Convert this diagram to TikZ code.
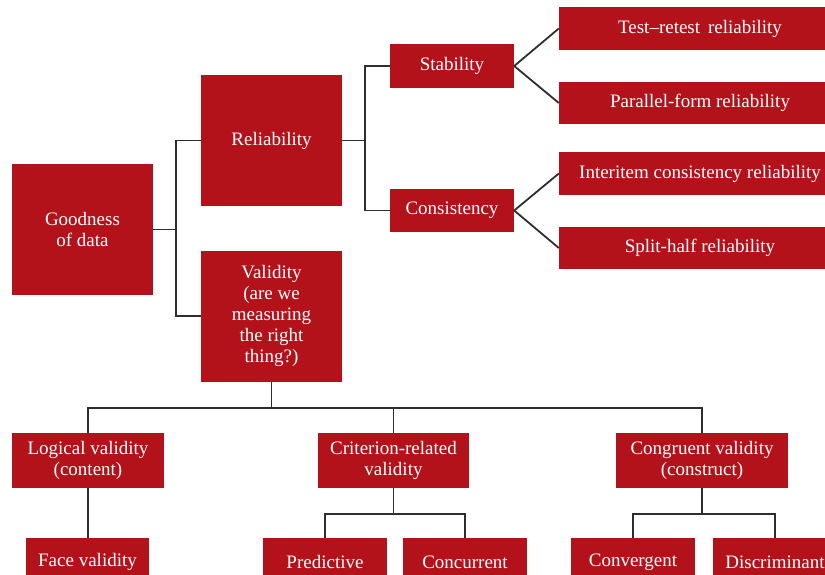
\documentclass[tikz,border=0pt]{standalone}
\usepackage{fontspec}
\setmainfont{Liberation Serif}
\definecolor{boxred}{HTML}{B3121B}
\definecolor{wire}{HTML}{2E2E2E}
\begin{document}
\begin{tikzpicture}[x=1pt,y=-1pt,
  box/.style={fill=boxred, text=white, inner sep=0pt, align=center,
    font=\fontsize{19}{21}\selectfont},
  wirestyle/.style={draw=wire, line width=1.8pt}]
\useasboundingbox (0,0) rectangle (825,575);
\clip (0,0) rectangle (825,575);

% root and first level
\node[box, minimum width=141, minimum height=131] (good) at (82.5,229.5) {Goodness\\of data};
\node[box, minimum width=141, minimum height=131] (rel) at (271.5,140.5) {Reliability};
\node[box, minimum width=141, minimum height=131] (val) at (271.5,316) {Validity\\(are we\\measuring\\the right\\thing?)};

% reliability branch
\node[box, minimum width=124, minimum height=44] (stab) at (452,66) {Stability};
\node[box, minimum width=124, minimum height=43] (cons) at (452,210.5) {Consistency};
\node[box, minimum width=282, minimum height=43] (tr) at (700,28.5) {Test–retest\, reliability};
\node[box, minimum width=282, minimum height=42] (pf) at (700,103) {Parallel-form reliability};
\node[box, minimum width=282, minimum height=43] (ii) at (700,173.5) {Interitem consistency reliability};
\node[box, minimum width=282, minimum height=42] (sh) at (700,248) {Split-half reliability};

% validity branch
\node[box, minimum width=152, minimum height=55] (log) at (88,460.5) {Logical validity\\(content)};
\node[box, minimum width=151, minimum height=55] (crit) at (393.5,460.5) {Criterion-related\\validity};
\node[box, minimum width=172, minimum height=55] (cong) at (702,460.5) {Congruent validity\\(construct)};
\node[box, minimum width=123, minimum height=48] (face) at (87.5,562) {Face validity};
\node[box, minimum width=124, minimum height=48] (pred) at (325,562) {Predictive};
\node[box, minimum width=124, minimum height=48] (conc) at (465,562) {Concurrent};
\node[box, minimum width=124, minimum height=48] (convg) at (633,562) {Convergent};
\node[box, minimum width=124, minimum height=48] (disc) at (775,562) {Discriminant};

% junction points
\coordinate (j1) at (176,229.5);
\coordinate (j2) at (365,140.5);
\coordinate (vbar) at (271.5,408);
\coordinate (cbar) at (393.5,514);
\coordinate (gbar) at (702,514);

% connectors
\draw[wirestyle] (good.east) -- (j1);
\draw[wirestyle] (rel.west) -| (j1) |- (val.west);
\draw[wirestyle] (rel.east) -- (j2);
\draw[wirestyle] (stab.west) -| (j2) |- (cons.west);
\draw[wirestyle] (stab.east) -- (tr.west);
\draw[wirestyle] (stab.east) -- (pf.west);
\draw[wirestyle] (cons.east) -- (ii.west);
\draw[wirestyle] (cons.east) -- (sh.west);

\draw[wirestyle] (val.south) -- (vbar);
\draw[wirestyle] (log.north) |- (vbar) -| (cong.north);
\draw[wirestyle] (crit.north) -- (crit.north |- vbar);
\draw[wirestyle] (log.south) -- (log.south |- face.north);

\draw[wirestyle] (crit.south) -- (cbar);
\draw[wirestyle] (pred.north) |- (cbar) -| (conc.north);
\draw[wirestyle] (cong.south) -- (gbar);
\draw[wirestyle] (convg.north) |- (gbar) -| (disc.north);
\end{tikzpicture}
\end{document}
